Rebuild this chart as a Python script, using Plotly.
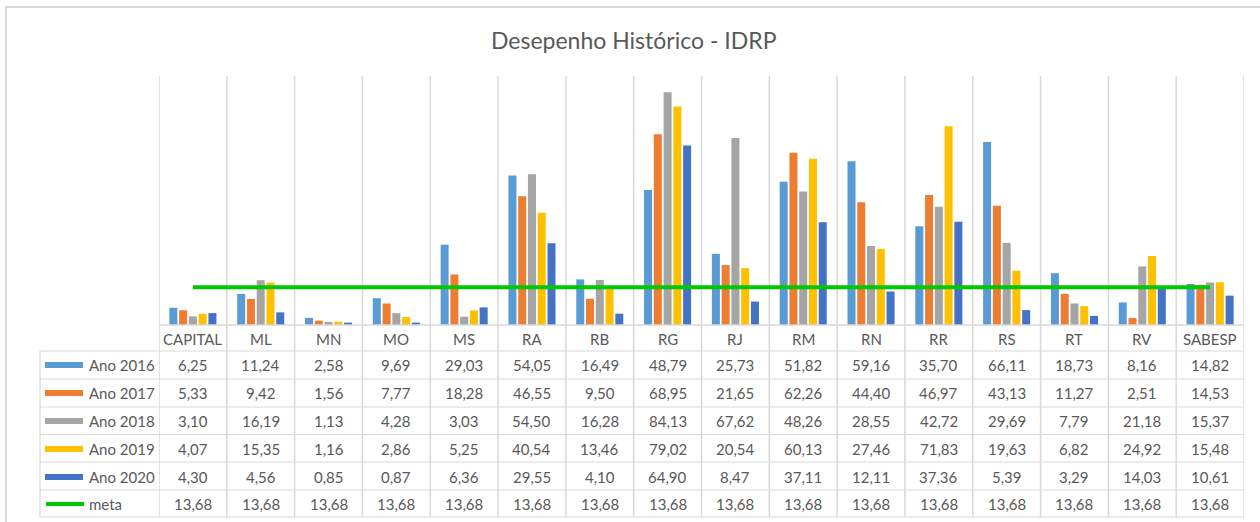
import plotly.graph_objects as go

categories = ["CAPITAL", "ML", "MN", "MO", "MS", "RA", "RB", "RG", "RJ", "RM",
              "RN", "RR", "RS", "RT", "RV", "SABESP"]
ano_2016 = [6.25, 11.24, 2.58, 9.69, 29.03, 54.05, 16.49, 48.79, 25.73, 51.82, 59.16, 35.70, 66.11, 18.73, 8.16, 14.82]
ano_2017 = [5.33, 9.42, 1.56, 7.77, 18.28, 46.55, 9.50, 68.95, 21.65, 62.26, 44.40, 46.97, 43.13, 11.27, 2.51, 14.53]
ano_2018 = [3.10, 16.19, 1.13, 4.28, 3.03, 54.50, 16.28, 84.13, 67.62, 48.26, 28.55, 42.72, 29.69, 7.79, 21.18, 15.37]
ano_2019 = [4.07, 15.35, 1.16, 2.86, 5.25, 40.54, 13.46, 79.02, 20.54, 60.13, 27.46, 71.83, 19.63, 6.82, 24.92, 15.48]
ano_2020 = [4.30, 4.56, 0.85, 0.87, 6.36, 29.55, 4.10, 64.90, 8.47, 37.11, 12.11, 37.36, 5.39, 3.29, 14.03, 10.61]
meta = [13.68] * 16

series_names = ["Ano 2016", "Ano 2017", "Ano 2018", "Ano 2019", "Ano 2020"]
series_values = [ano_2016, ano_2017, ano_2018, ano_2019, ano_2020]
series_colors = ["#5B9BD5", "#ED7D31", "#A5A5A5", "#FFC000", "#4472C4"]
meta_name = "meta"
meta_color = "#00C800"
title = "Desepenho Histórico - IDRP"

W, H = 1260, 522
PL, PR, PT, PB = 159, 1244, 76, 325  # plot area in pixels
GRID = "#D9D9D9"
TXT = "#595959"
FONT = "Lato"


def py(p):
    return (PB - p) / (PB - PT)


def px(p):
    return (p - PL) / (PR - PL)


fig = go.Figure()
for name, vals, col in zip(series_names, series_values, series_colors):
    fig.add_trace(go.Bar(x=categories, y=vals, name=name, marker_color=col,
                         marker_line_width=0, showlegend=False))
fig.add_trace(go.Scatter(x=categories, y=meta, name=meta_name, mode="lines",
                         line=dict(color=meta_color, width=4), showlegend=False))

shapes = []
annotations = []

# outer border
shapes.append(dict(type="rect", xref="paper", yref="paper", x0=px(6), x1=px(1265),
                   y0=py(7), y1=py(530), line=dict(color=GRID, width=2), layer="below"))

# vertical column lines (category boundaries)
n = len(categories)
for i in range(n + 1):
    shapes.append(dict(type="line", xref="x", yref="paper", x0=i - 0.5, x1=i - 0.5,
                       y0=py(PT), y1=py(517), line=dict(color=GRID, width=1.5), layer="below"))

# table geometry
row_lines = [351, 379, 407, 434.5, 462, 490, 517]
row_centers = [365, 393, 421, 449, 477, 504]
TL = 40
# baseline / axis line
shapes.append(dict(type="line", xref="paper", yref="paper", x0=0, x1=1,
                   y0=0, y1=0, line=dict(color=GRID, width=1.5)))
for r in row_lines:
    shapes.append(dict(type="line", xref="paper", yref="paper", x0=px(TL), x1=1,
                       y0=py(r), y1=py(r), line=dict(color=GRID, width=1.2)))
shapes.append(dict(type="line", xref="paper", yref="paper", x0=px(TL), x1=px(TL),
                   y0=py(351), y1=py(517), line=dict(color=GRID, width=1.2)))

# category labels row
for i, c in enumerate(categories):
    annotations.append(dict(x=i, y=py(339), xref="x", yref="paper", text=c, showarrow=False,
                            font=dict(family=FONT, size=15, color=TXT), xanchor="center", yanchor="middle"))

# data rows
all_names = series_names + [meta_name]
all_values = series_values + [meta]
for r, (name, vals) in enumerate(zip(all_names, all_values)):
    yc = py(row_centers[r])
    for i, v in enumerate(vals):
        annotations.append(dict(x=i, y=yc, xref="x", yref="paper",
                                text=f"{v:.2f}".replace(".", ","), showarrow=False,
                                font=dict(family=FONT, size=15, color=TXT),
                                xanchor="center", yanchor="middle"))
    annotations.append(dict(x=px(87), y=yc, xref="paper", yref="paper", text=name, showarrow=False,
                            font=dict(family=FONT, size=15, color=TXT), xanchor="left", yanchor="middle"))
    if r < len(series_names):
        shapes.append(dict(type="rect", xref="paper", yref="paper", x0=px(45), x1=px(83),
                           y0=py(row_centers[r] - 3), y1=py(row_centers[r] + 3),
                           fillcolor=series_colors[r], line=dict(width=0)))
    else:
        shapes.append(dict(type="line", xref="paper", yref="paper", x0=px(46), x1=px(84),
                           y0=yc, y1=yc, line=dict(color=meta_color, width=4)))

# title
annotations.append(dict(x=px(634), y=py(40), xref="paper", yref="paper", text=title, showarrow=False,
                        font=dict(family=FONT, size=23, color=TXT), xanchor="center", yanchor="middle"))

fig.update_layout(
    width=W, height=H,
    margin=dict(l=PL, r=W - PR, t=PT, b=H - PB),
    paper_bgcolor="white", plot_bgcolor="white",
    barmode="group", bargap=0.28, bargroupgap=0.18,
    xaxis=dict(showticklabels=False, showgrid=False, zeroline=False, showline=False,
               range=[-0.5, n - 0.5]),
    yaxis=dict(range=[0, 90], showticklabels=False, showgrid=False, zeroline=False, showline=False),
    shapes=shapes, annotations=annotations, showlegend=False,
)

fig.write_html("out.html", config={"displayModeBar": False},
               post_script="document.body.style.margin='0';document.body.style.overflow='hidden';")
